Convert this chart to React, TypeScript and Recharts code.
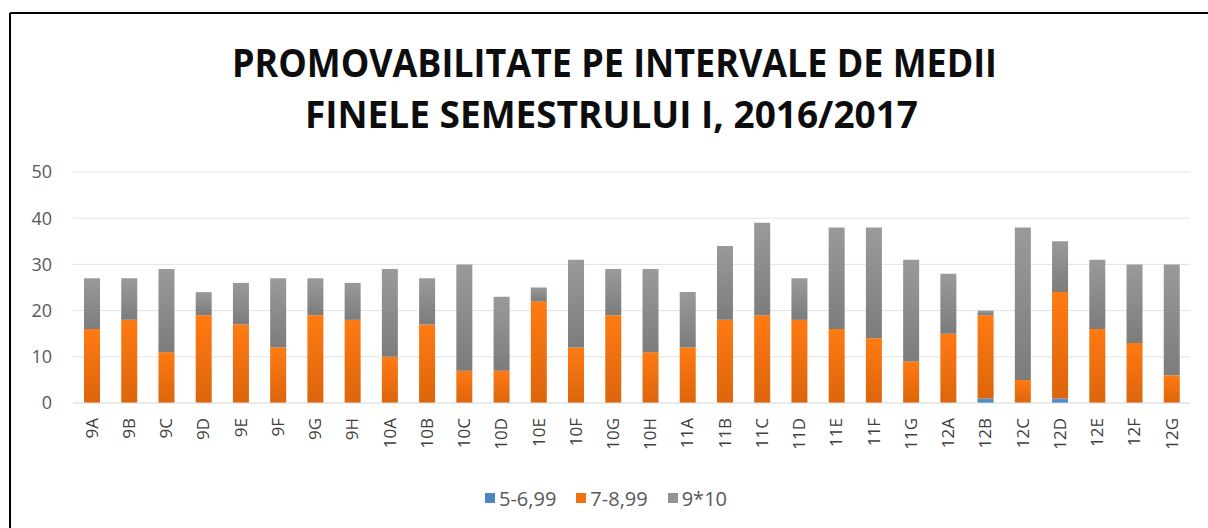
import React from "react";
import { BarChart, Bar, XAxis, YAxis, CartesianGrid, Legend } from "recharts";

const classes = [
  "9A", "9B", "9C", "9D", "9E", "9F", "9G", "9H",
  "10A", "10B", "10C", "10D", "10E", "10F", "10G", "10H",
  "11A", "11B", "11C", "11D", "11E", "11F", "11G",
  "12A", "12B", "12C", "12D", "12E", "12F", "12G",
];
// 5-6,99
const low = [
  0, 0, 0, 0, 0, 0, 0, 0,
  0, 0, 0, 0, 0, 0, 0, 0,
  0, 0, 0, 0, 0, 0, 0,
  0, 1, 0, 1, 0, 0, 0,
];
// 7-8,99
const mid = [
  16, 18, 11, 19, 17, 12, 19, 18,
  10, 17, 7, 7, 22, 12, 19, 11,
  12, 18, 19, 18, 16, 14, 9,
  15, 18, 5, 23, 16, 13, 6,
];
// 9*10
const high = [
  11, 9, 18, 5, 9, 15, 8, 8,
  19, 10, 23, 16, 3, 19, 10, 18,
  12, 16, 20, 9, 22, 24, 22,
  13, 1, 33, 11, 15, 17, 24,
];
const yTicks = [0, 10, 20, 30, 40, 50];
const titleLines = [
  "PROMOVABILITATE PE INTERVALE DE MEDII",
  "FINELE SEMESTRULUI I, 2016/2017",
];

const data = classes.map((name, i) => ({
  name,
  low: low[i],
  mid: mid[i],
  high: high[i],
}));

const FONT = "'Open Sans', 'Noto Sans', sans-serif";

const legendItems = [
  { label: "5-6,99", color: "#4a86c8" },
  { label: "7-8,99", color: "#f0720f" },
  { label: "9*10", color: "#939393" },
];

const XTick = (props: any) => {
  const { x, y, payload } = props;
  return (
    <g transform={`translate(${x},${y})`}>
      <text
        x={0}
        y={0}
        dx={-7}
        dy="0.36em"
        transform="rotate(-90)"
        textAnchor="end"
        fontSize={17}
        fontFamily={FONT}
        fill="#404040"
      >
        {payload.value}
      </text>
    </g>
  );
};

const LegendBox = () => (
  <div
    style={{
      display: "flex",
      justifyContent: "center",
      alignItems: "center",
      gap: 20,
      fontFamily: FONT,
      fontSize: 20,
      color: "#595959",
      height: 30,
      paddingLeft: 22,
    }}
  >
    {legendItems.map((it) => (
      <div key={it.label} style={{ display: "flex", alignItems: "center", gap: 4 }}>
        <span style={{ width: 10, height: 10, background: it.color, display: "inline-block" }} />
        <span>{it.label}</span>
      </div>
    ))}
  </div>
);

export default function App() {
  return (
    <div style={{ position: "absolute", left: 0, top: 0, width: 1208, height: 528, overflow: "hidden", background: "#fff" }}>
      <svg width={1208} height={528} style={{ position: "absolute", left: 0, top: 0 }}>
        <line x1={10} y1={13} x2={1208} y2={13} stroke="#000" strokeWidth={2} />
        <line x1={10} y1={13} x2={10} y2={528} stroke="#000" strokeWidth={2} />
        <text x={232} y={77} textLength={765} lengthAdjust="spacingAndGlyphs" fontFamily={FONT} fontWeight={700} fontSize={39} fill="#0d0d0d">
          {titleLines[0]}
        </text>
        <text x={305} y={128} textLength={613} lengthAdjust="spacingAndGlyphs" fontFamily={FONT} fontWeight={700} fontSize={38} fill="#0d0d0d">
          {titleLines[1]}
        </text>
      </svg>
      <div style={{ position: "absolute", left: 0, top: 0 }}>
        <BarChart
          width={1208}
          height={528}
          data={data}
          margin={{ top: 172, right: 18, left: 0, bottom: 15 }}
          barSize={16}
        >
          <defs>
            <linearGradient id="gOrange" x1="0" y1="0" x2="0" y2="1">
              <stop offset="0%" stopColor="#ff7a12" />
              <stop offset="100%" stopColor="#dc650c" />
            </linearGradient>
            <linearGradient id="gGray" x1="0" y1="0" x2="0" y2="1">
              <stop offset="0%" stopColor="#9a9a9a" />
              <stop offset="100%" stopColor="#7c7c7c" />
            </linearGradient>
            <linearGradient id="gBlue" x1="0" y1="0" x2="0" y2="1">
              <stop offset="0%" stopColor="#5b9bd5" />
              <stop offset="100%" stopColor="#3f7fbf" />
            </linearGradient>
          </defs>
          <CartesianGrid vertical={false} stroke="#e3e3e3" />
          <XAxis
            dataKey="name"
            interval={0}
            height={80}
            tick={<XTick />}
            tickLine={false}
            axisLine={{ stroke: "#e3e3e3" }}
          />
          <YAxis
            domain={[0, 50]}
            ticks={yTicks}
            width={73}
            tickLine={false}
            axisLine={false}
            tickMargin={15}
            tick={{ fontSize: 18, fill: "#595959", fontFamily: FONT }}
          />
          <Legend verticalAlign="bottom" height={30} content={<LegendBox />} />
          <Bar dataKey="low" name="5-6,99" stackId="a" fill="url(#gBlue)" isAnimationActive={false} />
          <Bar dataKey="mid" name="7-8,99" stackId="a" fill="url(#gOrange)" isAnimationActive={false} />
          <Bar dataKey="high" name="9*10" stackId="a" fill="url(#gGray)" isAnimationActive={false} />
        </BarChart>
      </div>
    </div>
  );
}
